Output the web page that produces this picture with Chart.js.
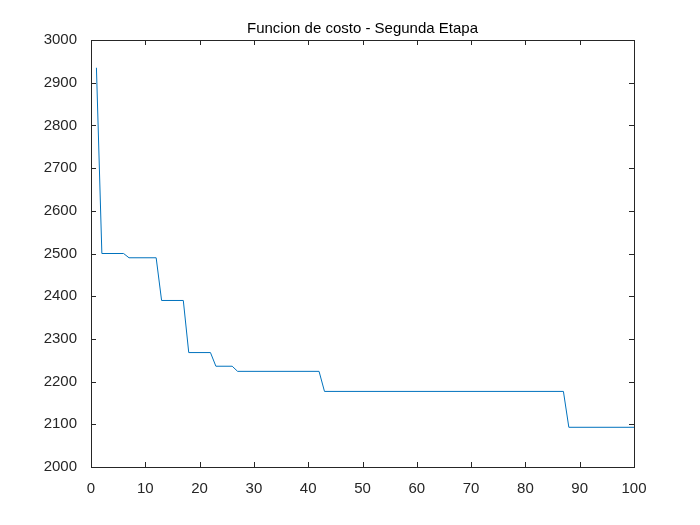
<!DOCTYPE html>
<html>
<head>
<meta charset="utf-8">
<script src="https://cdn.jsdelivr.net/npm/chart.js@4"></script>
<style>
  body { margin: 0; background: #fff; }
  #wrap { width: 700px; height: 525px; }
</style>
</head>
<body>
<div id="wrap"><canvas id="chart" width="700" height="525"></canvas></div>
<script>
const iterations = [1, 2, 6, 7, 12, 13, 17, 18, 22, 23, 26, 27, 42, 43, 87, 88, 100];
const costs = [2935, 2500, 2500, 2490, 2490, 2390, 2390, 2268, 2268, 2236, 2236, 2224, 2224, 2177, 2177, 2093, 2093];
const xTicks = [0, 10, 20, 30, 40, 50, 60, 70, 80, 90, 100];
const yTicks = [2000, 2100, 2200, 2300, 2400, 2500, 2600, 2700, 2800, 2900, 3000];
const titleText = "Funcion de costo - Segunda Etapa";

const points = iterations.map((x, i) => ({ x, y: costs[i] }));
const tickFont = { family: "Liberation Sans, Arial", size: 15 };

// box around the axes, inward ticks, title
const matlabFrame = {
  id: "matlabFrame",
  afterDraw(c) {
    const { ctx, chartArea: a, scales } = c;
    ctx.save();
    ctx.strokeStyle = "#262626";
    ctx.lineWidth = 1;
    ctx.strokeRect(a.left + 0.5, a.top + 0.5, a.right - a.left, a.bottom - a.top);
    ctx.beginPath();
    for (const t of xTicks) {
      const px = Math.round(scales.x.getPixelForValue(t)) + 0.5;
      ctx.moveTo(px, a.bottom); ctx.lineTo(px, a.bottom - 5);
      ctx.moveTo(px, a.top); ctx.lineTo(px, a.top + 5);
    }
    for (const t of yTicks) {
      const py = Math.round(scales.y.getPixelForValue(t)) + 0.5;
      ctx.moveTo(a.left, py); ctx.lineTo(a.left + 5, py);
      ctx.moveTo(a.right, py); ctx.lineTo(a.right - 5, py);
    }
    ctx.stroke();
    ctx.fillStyle = "#000";
    ctx.font = "15px Liberation Sans, Arial";
    ctx.textAlign = "center";
    ctx.textBaseline = "bottom";
    ctx.fillText(titleText, (a.left + a.right) / 2, a.top - 4);
    ctx.restore();
  }
};

new Chart(document.getElementById("chart"), {
  type: "line",
  data: {
    datasets: [{
      data: points,
      borderColor: "#0072BD",
      borderWidth: 1,
      pointRadius: 0,
      tension: 0,
      fill: false
    }]
  },
  options: {
    responsive: false,
    animation: false,
    layout: { padding: { top: 40, right: 66, left: 0, bottom: 0 } },
    plugins: { legend: { display: false }, tooltip: { enabled: false } },
    scales: {
      x: {
        type: "linear", min: 0, max: 100,
        afterBuildTicks: s => { s.ticks = xTicks.map(v => ({ value: v })); },
        afterFit: s => { s.height = 58; },
        grid: { display: false }, border: { display: false },
        ticks: { color: "#262626", font: tickFont, maxRotation: 0, padding: 5, callback: v => String(v) }
      },
      y: {
        min: 2000, max: 3000,
        afterBuildTicks: s => { s.ticks = yTicks.map(v => ({ value: v })); },
        afterFit: s => { s.width = 91; },
        grid: { display: false }, border: { display: false },
        ticks: { color: "#262626", font: tickFont, padding: 6, callback: v => String(v) }
      }
    }
  },
  plugins: [matlabFrame]
});
</script>
</body>
</html>
